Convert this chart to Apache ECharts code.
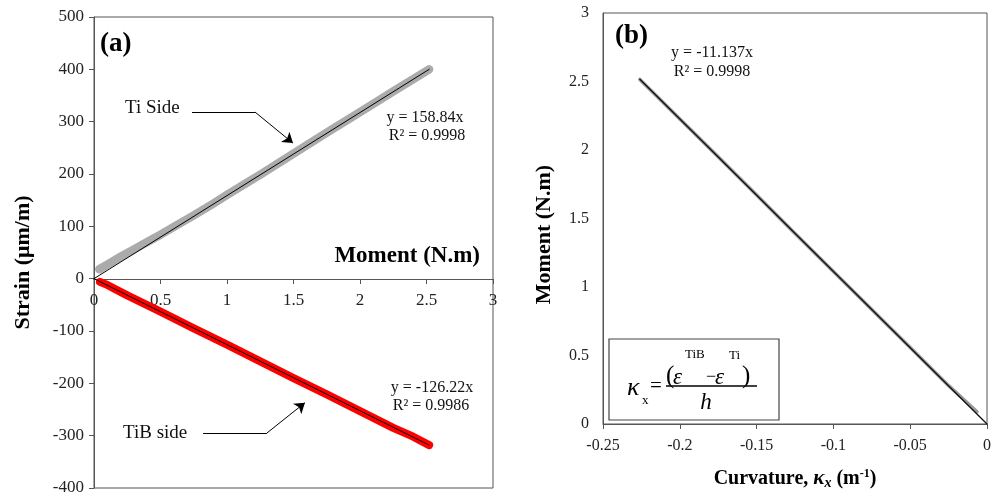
<!DOCTYPE html>
<html><head><meta charset="utf-8">
<script src="https://cdn.jsdelivr.net/npm/echarts@6/dist/echarts.min.js"></script>
<style>html,body{margin:0;padding:0;background:#fff}#c{width:1000px;height:495px}</style>
</head><body><div id="c"></div>
<script>
// Panel (a): strain vs moment
const tiSideData = [[0.04,18],[0.1,27],[0.2,42],[0.3,56],[0.4,70],[0.5,84],[0.6,99],[0.75,121],[0.9,144],[1.0,160],[1.25,199],[1.5,239],[1.75,279],[2.0,318],[2.25,358],[2.52,400]];
const tibSideData = [[0.045,-6],[0.1,-12],[0.25,-32],[0.5,-63],[0.75,-95],[1.0,-126],[1.25,-158],[1.5,-190],[1.75,-221],[2.0,-253],[2.25,-285],[2.4,-302],[2.52,-318]];
const tiFit = [[0,0],[2.52,400]];
const tibFit = [[0,0],[2.52,-318]];
// Panel (b): moment vs curvature
const curvMomentData = [[-0.226,2.515],[-0.2,2.226],[-0.175,1.95],[-0.15,1.672],[-0.125,1.39],[-0.1,1.114],[-0.075,0.836],[-0.05,0.558],[-0.025,0.28],[-0.0065,0.09]];
const curvFit = [[-0.226,2.517],[0,0]];
// Annotation leaders (data coords): horizontal part, then arrow part
const tiLeaderFlat = [[0.737,318.5],[1.21,318.5]];
const tiLeaderArrow = [[1.21,318.5],[1.496,259]];
const tibLeaderFlat = [[0.82,-295],[1.30,-295]];
const tibLeaderArrow = [[1.30,-295],[1.586,-237]];

const FF = '"Liberation Serif","Times New Roman",serif';
const axisCol = '#555';
const lblStyle = (fs)=>({color:'#222', fontFamily:FF, fontSize:fs});

const chart = echarts.init(document.getElementById('c'), null, {renderer:'canvas'});
const lineS = (data, xi, color, width, z) => ({
  type:'line', xAxisIndex:xi, yAxisIndex:xi, data:data, showSymbol:false, symbol:'none',
  silent:true, animation:false, z:z,
  lineStyle:{color:color, width:width, cap:'round', join:'round'}
});
const leaderS = (segs, arrow) => ({
  type:'lines', coordinateSystem:'cartesian2d', xAxisIndex:0, yAxisIndex:0,
  silent:true, animation:false, z:4,
  symbol: arrow ? ['none','arrow'] : ['none','none'], symbolSize: arrow ? [7,10] : 0,
  lineStyle:{color:'#000', width:1, opacity:1, curveness:0},
  data: segs.map(s=>({coords:s}))
});

chart.setOption({
  animation:false,
  backgroundColor:'#fff',
  grid:[
    {left:94, top:17, width:399, height:471, show:true, borderColor:axisCol, borderWidth:1, backgroundColor:'transparent', outerBoundsMode:'none', containLabel:false},
    {left:603, top:13, width:384, height:411, show:true, borderColor:axisCol, borderWidth:1, backgroundColor:'transparent', outerBoundsMode:'none', containLabel:false}
  ],
  xAxis:[
    {gridIndex:0, type:'value', min:0, max:3, interval:0.5, position:'bottom', offset:-209,
     axisLine:{show:true, onZero:false, lineStyle:{color:axisCol, width:1}},
     axisTick:{show:true, inside:false, length:5, lineStyle:{color:axisCol}},
     axisLabel:Object.assign({margin:13}, lblStyle(17)),
     splitLine:{show:false}},
    {gridIndex:1, type:'value', min:-0.25, max:0, interval:0.05,
     axisLine:{show:true, onZero:false, lineStyle:{color:axisCol, width:1}},
     axisTick:{show:true, inside:false, length:5, lineStyle:{color:axisCol}},
     axisLabel:Object.assign({margin:14}, lblStyle(16)),
     splitLine:{show:false},
     name:'{a|Curvature, }{k|κ}{s|x}{a| (m}{sup|-1}{a|)}',
     nameLocation:'middle', nameGap:44,
     nameTextStyle:{fontFamily:FF, fontSize:20, fontWeight:'bold', color:'#000',
       rich:{
         a:{fontFamily:FF, fontSize:20, fontWeight:'bold', color:'#000'},
         k:{fontFamily:FF, fontSize:21, fontWeight:'bold', fontStyle:'italic', color:'#000'},
         s:{fontFamily:FF, fontSize:14, fontWeight:'bold', fontStyle:'italic', color:'#000', verticalAlign:'bottom', padding:[8,0,0,0]},
         sup:{fontFamily:FF, fontSize:12, fontWeight:'bold', color:'#000', verticalAlign:'top', padding:[0,0,8,0]}
       }}}
  ],
  yAxis:[
    {gridIndex:0, type:'value', min:-400, max:500, interval:100,
     axisLine:{show:true, onZero:false, lineStyle:{color:axisCol, width:1}},
     axisTick:{show:true, inside:false, length:5, lineStyle:{color:axisCol}},
     axisLabel:Object.assign({margin:10}, lblStyle(17)),
     splitLine:{show:false},
     name:'Strain (μm/m)', nameLocation:'middle', nameRotate:90, nameGap:60,
     nameTextStyle:{fontFamily:FF, fontSize:22, fontWeight:'bold', color:'#000', padding:[0,20,0,0]}},
    {gridIndex:1, type:'value', min:0, max:3, interval:0.5,
     axisLine:{show:true, onZero:false, lineStyle:{color:axisCol, width:1}},
     axisTick:{show:false},
     axisLabel:Object.assign({margin:14}, lblStyle(16)),
     splitLine:{show:false},
     name:'Moment (N.m)', nameLocation:'middle', nameRotate:90, nameGap:48,
     nameTextStyle:{fontFamily:FF, fontSize:22, fontWeight:'bold', color:'#000', padding:[0,32,0,0]}}
  ],
  series:[
    lineS(tiSideData, 0, '#ababab', 8.5, 2),
    lineS(tiFit, 0, '#000', 1, 3),
    lineS(tibSideData, 0, '#ff0000', 8, 2),
    lineS(tibFit, 0, '#000', 1, 3),
    lineS(curvMomentData, 1, '#9a9a9a', 3.5, 2),
    lineS(curvFit, 1, '#111', 1.3, 3),
    leaderS([tiLeaderFlat, tibLeaderFlat], false),
    leaderS([tiLeaderArrow, tibLeaderArrow], true)
  ],
  graphic:[
    {type:'text', x:100, y:44, style:{text:'(a)', fontFamily:FF, fontSize:27, fontWeight:'bold', fill:'#000', align:'left', verticalAlign:'middle'}},
    {type:'text', x:125, y:108, style:{text:'Ti Side', fontFamily:FF, fontSize:19, fill:'#111', align:'left', verticalAlign:'middle'}},
    {type:'text', x:123, y:433, style:{text:'TiB side', fontFamily:FF, fontSize:19, fill:'#111', align:'left', verticalAlign:'middle'}},
    {type:'text', x:425, y:118, style:{text:'y = 158.84x', fontFamily:FF, fontSize:16, fill:'#111', align:'center', verticalAlign:'middle'}},
    {type:'text', x:427, y:136, style:{text:'R² = 0.9998', fontFamily:FF, fontSize:16, fill:'#111', align:'center', verticalAlign:'middle'}},
    {type:'text', x:432, y:388, style:{text:'y = -126.22x', fontFamily:FF, fontSize:16, fill:'#111', align:'center', verticalAlign:'middle'}},
    {type:'text', x:431, y:406, style:{text:'R² = 0.9986', fontFamily:FF, fontSize:16, fill:'#111', align:'center', verticalAlign:'middle'}},
    {type:'text', x:480, y:256, style:{text:'Moment (N.m)', fontFamily:FF, fontSize:23, fontWeight:'bold', fill:'#000', align:'right', verticalAlign:'middle'}},
    {type:'text', x:615, y:36, style:{text:'(b)', fontFamily:FF, fontSize:27, fontWeight:'bold', fill:'#000', align:'left', verticalAlign:'middle'}},
    {type:'text', x:712, y:53, style:{text:'y = -11.137x', fontFamily:FF, fontSize:16, fill:'#111', align:'center', verticalAlign:'middle'}},
    {type:'text', x:712, y:72, style:{text:'R² = 0.9998', fontFamily:FF, fontSize:16, fill:'#111', align:'center', verticalAlign:'middle'}},
    // formula box
    {type:'rect', shape:{x:609, y:339, width:170, height:81}, style:{fill:'#fff', stroke:'#444', lineWidth:1.2}, z:10},
    {type:'text', x:627, y:388, z:11, style:{text:'κ', fontFamily:FF, fontSize:26, fontStyle:'italic', fill:'#000', align:'left', verticalAlign:'middle'}},
    {type:'text', x:642, y:401, z:11, style:{text:'x', fontFamily:FF, fontSize:13, fill:'#000', align:'left', verticalAlign:'middle'}},
    {type:'text', x:650, y:386, z:11, style:{text:'=', fontFamily:FF, fontSize:21, fill:'#000', align:'left', verticalAlign:'middle'}},
    {type:'text', x:666, y:376, z:11, style:{text:'(', fontFamily:FF, fontSize:25, fill:'#000', align:'left', verticalAlign:'middle'}},
    {type:'text', x:673, y:378, z:11, style:{text:'ε', fontFamily:FF, fontSize:23, fontStyle:'italic', fill:'#000', align:'left', verticalAlign:'middle'}},
    {type:'text', x:685, y:355, z:11, style:{text:'TiB', fontFamily:FF, fontSize:13, fill:'#000', align:'left', verticalAlign:'middle'}},
    {type:'text', x:706, y:377, z:11, style:{text:'−', fontFamily:FF, fontSize:18, fill:'#000', align:'left', verticalAlign:'middle'}},
    {type:'text', x:715, y:378, z:11, style:{text:'ε', fontFamily:FF, fontSize:23, fontStyle:'italic', fill:'#000', align:'left', verticalAlign:'middle'}},
    {type:'text', x:729, y:356, z:11, style:{text:'Ti', fontFamily:FF, fontSize:13, fill:'#000', align:'left', verticalAlign:'middle'}},
    {type:'text', x:742, y:376, z:11, style:{text:')', fontFamily:FF, fontSize:25, fill:'#000', align:'left', verticalAlign:'middle'}},
    {type:'line', z:11, shape:{x1:666, y1:386, x2:757, y2:386}, style:{stroke:'#000', lineWidth:1.3}},
    {type:'text', x:706, y:403, z:11, style:{text:'h', fontFamily:FF, fontSize:23, fontStyle:'italic', fill:'#000', align:'center', verticalAlign:'middle'}}
  ]
});
</script></body></html>
